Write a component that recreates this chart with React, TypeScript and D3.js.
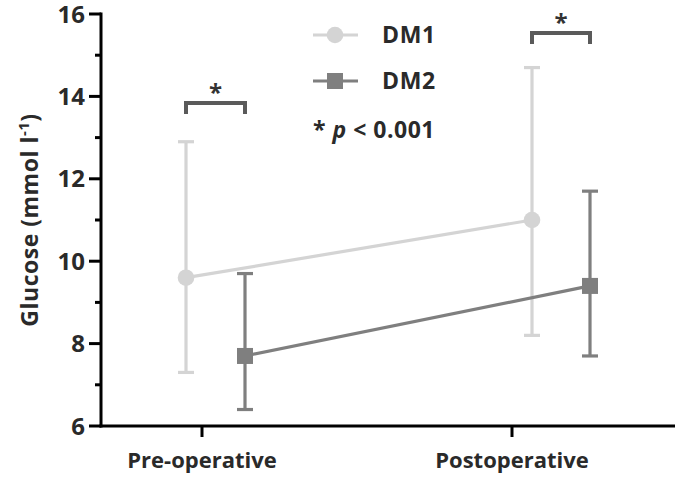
import React from "react";
import * as d3 from "d3";

const categories = ["Pre-operative", "Postoperative"];
const seriesNames = ["DM1", "DM2"];
const dm1Mean = [9.6, 11.0];
const dm1Low = [7.3, 8.2];
const dm1High = [12.9, 14.7];
const dm2Mean = [7.7, 9.4];
const dm2Low = [6.4, 7.7];
const dm2High = [9.7, 11.7];
const yTicks = [6, 8, 10, 12, 14, 16];
const yMinorTicks = [7, 9, 11, 13, 15];

const W = 675;
const H = 477;
const FONT = "'Open Sans', sans-serif";

export default function App() {
  const y = d3.scaleLinear().domain([6, 16]).range([426, 14]);
  const x = d3.scalePoint<string>().domain(categories).range([202, 512]);
  const axisX = 101;
  const axisY = 426;
  // dodge offsets per series per category (px)
  const dodge = [
    [-16, 20],
    [43, 78],
  ];
  const colors = ["#d4d4d4", "#7f7f7f"];
  const series = [
    { name: seriesNames[0], mean: dm1Mean, low: dm1Low, high: dm1High },
    { name: seriesNames[1], mean: dm2Mean, low: dm2Low, high: dm2High },
  ];
  const px = (si: number, ci: number) => (x(categories[ci]) as number) + dodge[si][ci];

  return (
    <svg width={W} height={H} style={{ position: "absolute", left: 0, top: 0, background: "#fff" }}>
      {/* series */}
      {series.map((s, si) => {
        const pts: [number, number][] = s.mean.map((m, ci) => [px(si, ci), y(m)]);
        const path = d3.line()(pts) || "";
        return (
          <g key={s.name}>
            {s.mean.map((m, ci) => {
              const cx = px(si, ci);
              return (
                <g key={ci} stroke={colors[si]} strokeWidth={3.2}>
                  <line x1={cx} x2={cx} y1={y(s.low[ci])} y2={y(s.high[ci])} />
                  <line x1={cx - 8} x2={cx + 8} y1={y(s.low[ci])} y2={y(s.low[ci])} />
                  <line x1={cx - 8} x2={cx + 8} y1={y(s.high[ci])} y2={y(s.high[ci])} />
                </g>
              );
            })}
            <path d={path} stroke={colors[si]} strokeWidth={3.2} fill="none" />
            {s.mean.map((m, ci) => {
              const cx = px(si, ci);
              return si === 0 ? (
                <circle key={"m" + ci} cx={cx} cy={y(m)} r={8.3} fill={colors[si]} />
              ) : (
                <rect key={"m" + ci} x={cx - 8} y={y(m) - 8} width={16} height={16} fill={colors[si]} />
              );
            })}
          </g>
        );
      })}

      {/* significance brackets */}
      {categories.map((c, ci) => {
        const x1 = px(0, ci);
        const x2 = px(1, ci);
        const top = ci === 0 ? 103 : 33;
        return (
          <g key={c}>
            <path
              d={`M${x1},${top + 11}V${top}H${x2}V${top + 11}`}
              stroke="#5a5a5a"
              strokeWidth={4}
              fill="none"
            />
            <text
              x={(x1 + x2) / 2}
              y={top - 2}
              textAnchor="middle"
              fontFamily={FONT}
              fontWeight="bold"
              fontSize={24}
              fill="#333"
            >
              *
            </text>
          </g>
        );
      })}

      {/* y axis */}
      <line x1={axisX} x2={axisX} y1={y(16) - 1.5} y2={axisY + 1.5} stroke="#000" strokeWidth={3} />
      {yTicks.map((t) => (
        <g key={t}>
          <line x1={axisX - 12} x2={axisX} y1={y(t)} y2={y(t)} stroke="#000" strokeWidth={3} />
          <text
            x={axisX - 16}
            y={y(t)}
            dy="0.36em"
            textAnchor="end"
            fontFamily={FONT}
            fontWeight="bold"
            fontSize={24}
            fill="#2a2a2a"
          >
            {t}
          </text>
        </g>
      ))}
      {yMinorTicks.map((t) => (
        <line key={t} x1={axisX - 6} x2={axisX} y1={y(t)} y2={y(t)} stroke="#000" strokeWidth={3} />
      ))}

      {/* x axis */}
      <line x1={axisX - 1.5} x2={W} y1={axisY} y2={axisY} stroke="#000" strokeWidth={3} />
      {categories.map((c) => (
        <g key={c}>
          <line x1={x(c)} x2={x(c)} y1={axisY} y2={axisY + 11} stroke="#000" strokeWidth={3} />
          <text
            x={x(c)}
            y={468}
            textAnchor="middle"
            fontFamily={FONT}
            fontWeight="bold"
            fontSize={22}
            fill="#2a2a2a"
          >
            {c}
          </text>
        </g>
      ))}

      {/* y title */}
      <text
        transform={`translate(38,220) rotate(-90)`}
        textAnchor="middle"
        fontFamily={FONT}
        fontWeight="bold"
        fontSize={23}
        letterSpacing={0.5}
        fill="#2a2a2a"
      >
        Glucose (mmol l
        <tspan dy="-9" fontSize={15}>
          -1
        </tspan>
        <tspan dy="9">)</tspan>
      </text>

      {/* legend */}
      {series.map((s, si) => {
        const ly = 35 + si * 46;
        return (
          <g key={"lg" + s.name}>
            <line x1={313} x2={358} y1={ly} y2={ly} stroke={colors[si]} strokeWidth={3.2} />
            {si === 0 ? (
              <circle cx={335} cy={ly} r={8.3} fill={colors[si]} />
            ) : (
              <rect x={327} y={ly - 8} width={16} height={16} fill={colors[si]} />
            )}
            <text
              x={382}
              y={ly + 7.5}
              fontFamily={FONT}
              fontWeight="bold"
              fontSize={23}
              letterSpacing={0.6}
              fill="#2a2a2a"
            >
              {s.name}
            </text>
          </g>
        );
      })}
      <text x={313} y={138} fontFamily={FONT} fontWeight="bold" fontSize={23} letterSpacing={0.5} fill="#2a2a2a">
        {"* "}
        <tspan fontStyle="italic">p</tspan>
        {" < 0.001"}
      </text>
    </svg>
  );
}
